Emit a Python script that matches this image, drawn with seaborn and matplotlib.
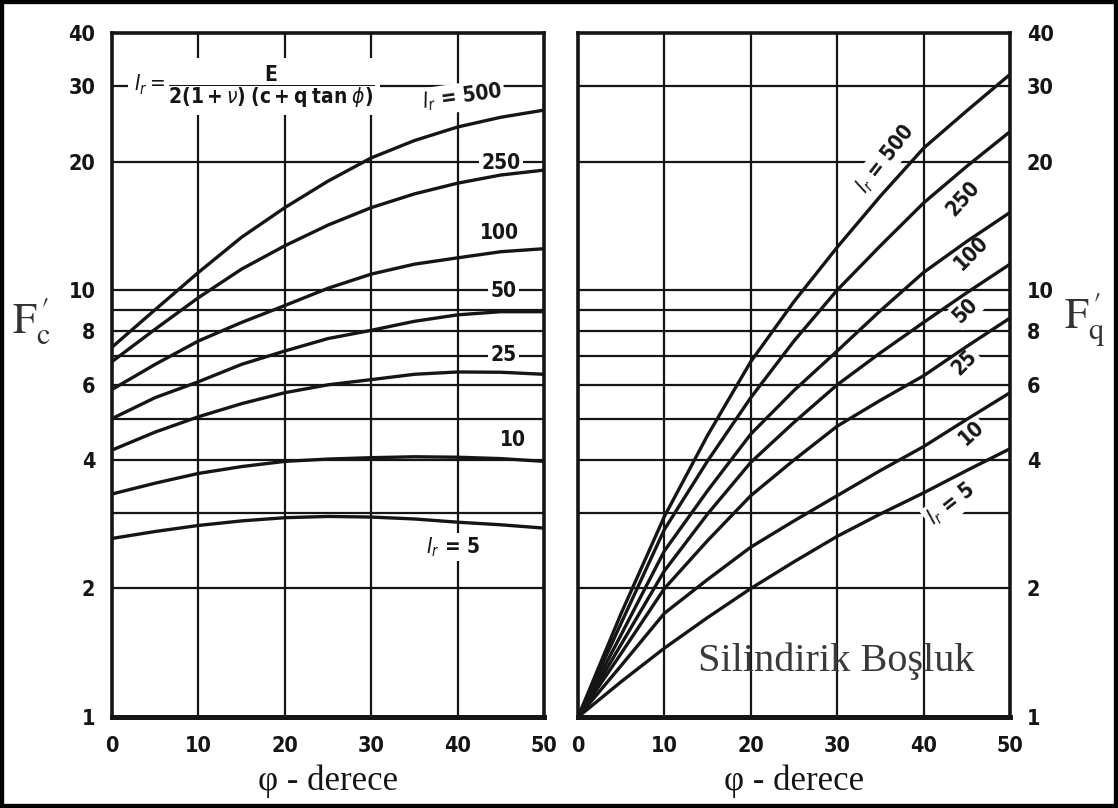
import numpy as np
import pandas as pd
import matplotlib
matplotlib.use("Agg")
import matplotlib.pyplot as plt
from matplotlib import font_manager
from matplotlib.ticker import NullLocator, FixedLocator, FixedFormatter
import seaborn as sns

# ---- data -------------------------------------------------------------
ir_values = [500, 250, 100, 50, 25, 10, 5]

# F_c' against friction angle (left panel)
phi_c = [0, 5, 10, 15, 20, 25, 30, 35, 40, 45, 50]
fc_500 = [7.35, 9.0, 11.0, 13.3, 15.6, 18.0, 20.4, 22.4, 24.1, 25.4, 26.4]
fc_250 = [6.8, 8.1, 9.6, 11.2, 12.7, 14.2, 15.6, 16.8, 17.8, 18.6, 19.1]
fc_100 = [5.85, 6.7, 7.6, 8.4, 9.2, 10.1, 10.9, 11.5, 11.9, 12.3, 12.5]
fc_50 = [5.0, 5.6, 6.1, 6.7, 7.2, 7.7, 8.05, 8.45, 8.75, 8.9, 8.9]
fc_25 = [4.22, 4.65, 5.05, 5.42, 5.75, 6.0, 6.17, 6.35, 6.43, 6.42, 6.35]
fc_10 = [3.33, 3.53, 3.72, 3.86, 3.97, 4.02, 4.05, 4.07, 4.06, 4.03, 3.97]
fc_5 = [2.62, 2.72, 2.81, 2.88, 2.93, 2.95, 2.94, 2.91, 2.86, 2.82, 2.77]

# F_q' against friction angle (right panel)
phi_q = [0, 5, 10, 15, 20, 25, 30, 35, 40, 45, 50]
fq_500 = [1.0, 1.75, 2.95, 4.57, 6.8, 9.4, 12.6, 16.6, 21.5, 26.3, 32.0]
fq_250 = [1.0, 1.66, 2.75, 3.98, 5.6, 7.6, 10.0, 12.7, 16.0, 19.5, 23.5]
fq_100 = [1.0, 1.56, 2.45, 3.39, 4.6, 5.82, 7.2, 8.95, 11.0, 13.0, 15.2]
fq_50 = [1.0, 1.48, 2.2, 2.99, 3.95, 4.9, 6.0, 7.13, 8.4, 9.86, 11.5]
fq_25 = [1.0, 1.41, 2.0, 2.59, 3.3, 4.0, 4.8, 5.52, 6.3, 7.38, 8.6]
fq_10 = [1.0, 1.32, 1.75, 2.1, 2.5, 2.88, 3.3, 3.78, 4.3, 4.98, 5.75]
fq_5 = [1.0, 1.21, 1.45, 1.71, 2.0, 2.31, 2.65, 2.99, 3.35, 3.78, 4.25]

y_ticks = [1, 2, 4, 6, 8, 10, 20, 30, 40]
y_tick_labels = ["1", "2", "4", "6", "8", "10", "20", "30", "40"]
grid_y = [2, 3, 4, 5, 6, 7, 8, 9, 10, 20, 30]
x_ticks = [0, 10, 20, 30, 40, 50]
grid_x = [10, 20, 30, 40]

# curve labels: (text, phi, F, rotation)
left_labels = [("$I_r$ = 500", 40.5, 28.3, 8), ("250", 45.0, 19.8, 0),
               ("100", 44.8, 13.6, 0), ("50", 45.3, 9.95, 0),
               ("25", 45.3, 7.05, 0), ("10", 46.4, 4.45, 0),
               ("$I_r$ = 5", 39.5, 2.5, 0)]
right_labels = [("$I_r$ = 500", 35.6, 20.3, 52), ("250", 44.6, 16.4, 48),
                ("100", 45.5, 12.2, 45), ("50", 44.8, 8.95, 45),
                ("25", 44.7, 6.75, 45), ("10", 45.5, 4.62, 42),
                ("$I_r$ = 5", 43.2, 3.15, 38)]

# ---- long-form tables ---------------------------------------------------
def long_table(phi, series):
    rows = []
    for ir, vals in zip(ir_values, series):
        for p, v in zip(phi, vals):
            rows.append({"Ir": ir, "phi": p, "F": v})
    return pd.DataFrame(rows)

df_c = long_table(phi_c, [fc_500, fc_250, fc_100, fc_50, fc_25, fc_10, fc_5])
df_q = long_table(phi_q, [fq_500, fq_250, fq_100, fq_50, fq_25, fq_10, fq_5])

# ---- style ------------------------------------------------------------
sns.set_theme(style="white")
names = {f.name for f in font_manager.fontManager.ttflist}
num_font = "Liberation Sans Narrow" if "Liberation Sans Narrow" in names else "DejaVu Sans"
serif_font = ["Liberation Serif", "DejaVu Serif"]
plt.rcParams["font.family"] = [num_font, "DejaVu Sans"]
plt.rcParams["font.stretch"] = "condensed"

ink = "#151515"
fig = plt.figure(figsize=(11.18, 8.08), dpi=100)
fig.patch.set_facecolor("white")
ax1 = fig.add_axes([0.1002, 0.1126, 0.3864, 0.8465])
ax2 = fig.add_axes([0.517, 0.1126, 0.3864, 0.8465])
ax2.yaxis.tick_right()

for ax, df in ((ax1, df_c), (ax2, df_q)):
    ax.set_yscale("log")
    for gy in grid_y:
        ax.axhline(gy, color=ink, lw=1.6, zorder=1)
    for gx in grid_x:
        ax.axvline(gx, color=ink, lw=1.6, zorder=1)
    sns.lineplot(data=df, x="phi", y="F", units="Ir", estimator=None,
                 color=ink, lw=2.4, ax=ax, legend=False, zorder=4)
    ax.set_xlim(0, 50)
    ax.set_ylim(1, 40)
    ax.yaxis.set_major_locator(FixedLocator(y_ticks))
    ax.yaxis.set_major_formatter(FixedFormatter(y_tick_labels))
    ax.yaxis.set_minor_locator(NullLocator())
    ax.set_xticks(x_ticks)
    ax.set_xticklabels([str(v) for v in x_ticks])
    ax.tick_params(axis="both", length=0, labelsize=15.5, colors=ink)
    ax.tick_params(axis="x", pad=14)
    ax.tick_params(axis="y", pad=12)
    for side, sp in ax.spines.items():
        sp.set_visible(True)
        sp.set_color(ink)
        sp.set_linewidth(2.6)
    ax.spines["bottom"].set_linewidth(3.6)
    ax.set_xlabel("φ - derece", family=serif_font, fontsize=25, color=ink,
                  labelpad=6)
    ax.set_ylabel("")
    ax.set_facecolor("white")

for ax in (ax1, ax2):
    for tick in ax.xaxis.get_major_ticks() + ax.yaxis.get_major_ticks():
        for lbl in (tick.label1, tick.label2):
            lbl.set_fontweight("bold")

label_box = dict(boxstyle="square,pad=0.12", fc="white", ec="none")
for txt, px, py, rot in left_labels:
    ax1.text(px, py, txt, ha="center", va="center", rotation=rot, fontsize=15,
             fontweight="bold", color=ink, bbox=label_box, zorder=3,
             math_fontfamily="dejavusans")
for txt, px, py, rot in right_labels:
    ax2.text(px, py, txt, ha="center", va="center", rotation=rot, fontsize=15,
             fontweight="bold", color=ink, bbox=label_box, zorder=3,
             rotation_mode="anchor", math_fontfamily="dejavusans")

# rigidity index definition
ax1.text(2.5, 30.0,
         r"$I_r = \dfrac{\mathbf{E}}{\mathbf{2(1+}\nu\mathbf{)\;(c + q\;tan\;}\phi\mathbf{)}}$",
         ha="left", va="center", fontsize=15, color=ink, zorder=3,
         math_fontfamily="dejavusans",
         bbox=dict(boxstyle="square,pad=0.25", fc="white", ec="none"))

# axis symbols
fig.text(0.028, 0.603, r"$\mathrm{F}_{\mathrm{c}}^{\,\prime}$", fontsize=31,
         color="#333333", ha="center", va="center", math_fontfamily="stix")
fig.text(0.970, 0.603, r"$\mathrm{F}_{\mathrm{q}}^{\,\prime}$", fontsize=31,
         color="#333333", ha="center", va="center", math_fontfamily="stix")

ax2.text(29.9, 1.35, "Silindirik Boşluk", family=serif_font, fontsize=29,
         color="#3a3a3a", ha="center", va="center", zorder=5)

fig.add_artist(plt.Rectangle((0, 0), 1, 1, transform=fig.transFigure,
                             fill=False, lw=6, ec="black"))

fig.savefig("out.png", dpi=100, facecolor="white")
